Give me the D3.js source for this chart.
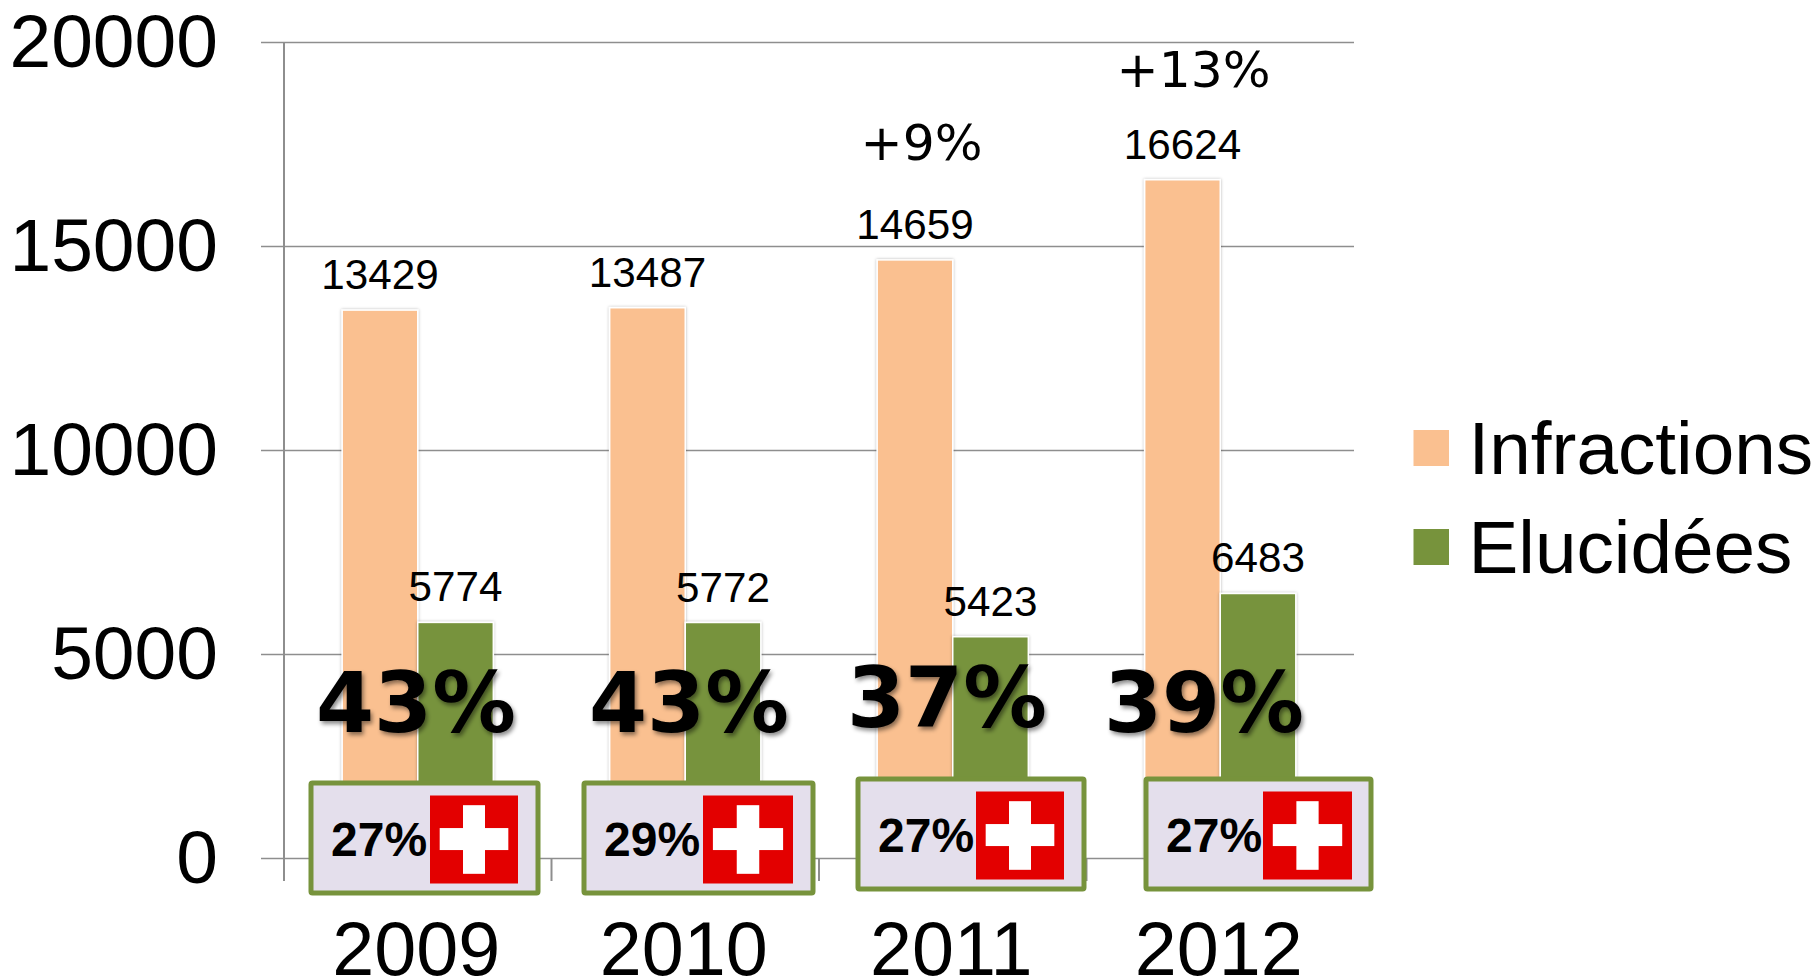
<!DOCTYPE html>
<html>
<head>
<meta charset="utf-8">
<script src="https://d3js.org/d3.v7.min.js"></script>
<style>
  html, body { margin: 0; background: #fff; overflow: hidden; }
  text { font-family: "Liberation Sans", Arial, sans-serif; fill: #000; }
</style>
</head>
<body>
<svg width="1816" height="978"></svg>
<script>
const years = ['2009', '2010', '2011', '2012'];
const infractions = [13429, 13487, 14659, 16624];
const elucidees = [5774, 5772, 5423, 6483];
const seriesNames = ['Infractions', 'Elucidées'];
const seriesColors = ['#FAC090', '#77933C'];
const yTicks = [0, 5000, 10000, 15000, 20000];
const rates = ['43%', '43%', '37%', '39%'];
const swissRates = ['27%', '29%', '27%', '27%'];
const growth = ['', '', '+9%', '+13%'];

const svg = d3.select('svg');

const x = d3.scaleBand().domain(years).range([284, 1354]);
const y = d3.scaleLinear().domain([0, 20000]).range([858, 42]);
const xSeries = d3.scaleBand().domain(seriesNames)
    .range([0, x.bandwidth()])
    .paddingInner(0)
    .paddingOuter(0.77);

const gridColor = '#8e8e8e';

// soft shadows
const defs = svg.append('defs');
defs.append('filter').attr('id', 'textShadow')
    .attr('x', '-10%').attr('y', '-10%').attr('width', '125%').attr('height', '125%')
    .append('feDropShadow')
        .attr('dx', 2).attr('dy', 3).attr('stdDeviation', 2)
        .attr('flood-color', '#000').attr('flood-opacity', 0.45);
defs.append('filter').attr('id', 'barShadow')
    .attr('x', '-10%').attr('y', '-5%').attr('width', '120%').attr('height', '110%')
    .append('feDropShadow')
        .attr('dx', 0).attr('dy', 0).attr('stdDeviation', 1.5)
        .attr('flood-color', '#000').attr('flood-opacity', 0.3);

// y axis + gridlines
const yAxisG = svg.append('g')
    .attr('transform', 'translate(284,0)')
    .call(d3.axisLeft(y).tickValues(yTicks).tickFormat(d3.format('d')).tickSize(23).tickPadding(44));
yAxisG.select('.domain').remove();
yAxisG.selectAll('.tick line').attr('stroke', gridColor).attr('stroke-width', 1.5);
yAxisG.selectAll('.tick').append('line')
    .attr('x1', 0).attr('x2', 1070)
    .attr('stroke', gridColor).attr('stroke-width', 1.5);
yAxisG.selectAll('.tick text')
    .attr('font-size', 75)
    .attr('font-family', '"Liberation Sans"')
    .attr('x', -66)
    .attr('dy', '0.33em');

// vertical axis line and the category ticks
svg.append('line')
    .attr('x1', 284).attr('x2', 284)
    .attr('y1', y(20000)).attr('y2', 881)
    .attr('stroke', gridColor).attr('stroke-width', 2);
svg.append('g').selectAll('line')
    .data(years)
    .join('line')
        .attr('x1', d => x(d) + x.bandwidth())
        .attr('x2', d => x(d) + x.bandwidth())
        .attr('y1', y(0)).attr('y2', 881)
        .attr('stroke', gridColor).attr('stroke-width', 2);

// year labels
const xAxisG = svg.append('g')
    .attr('transform', `translate(-1.5,${y(0)})`)
    .call(d3.axisBottom(x).tickSize(0).tickPadding(63));
xAxisG.select('.domain').remove();
xAxisG.selectAll('.tick text')
    .attr('font-size', 75.5)
    .attr('font-family', '"Liberation Sans"');

// bars
[infractions, elucidees].forEach((values, s) => {
    const name = seriesNames[s];
    svg.append('g').selectAll('rect')
        .data(values)
        .join('rect')
            .attr('x', (d, i) => x(years[i]) + xSeries(name))
            .attr('y', d => y(d))
            .attr('width', xSeries.bandwidth())
            .attr('height', d => y(0) - y(d))
            .attr('fill', seriesColors[s])
            .attr('stroke', '#fff')
            .attr('stroke-width', 1.5)
            .attr('filter', 'url(#barShadow)');

    svg.append('g').selectAll('text')
        .data(values)
        .join('text')
            .attr('x', (d, i) => x(years[i]) + xSeries(name) + xSeries.bandwidth() / 2)
            .attr('y', d => y(d) - 21)
            .attr('text-anchor', 'middle')
            .attr('font-size', 42.2)
            .text(d => d);
});

// growth notes above the bars
const growthX = [0, 0, 921.5, 1193.5];
const growthY = [0, 0, 160, 87];
svg.append('g').selectAll('text')
    .data(growth)
    .join('text')
        .attr('x', (d, i) => growthX[i])
        .attr('y', (d, i) => growthY[i])
        .attr('text-anchor', 'middle')
        .style('font-family', '"DejaVu Sans"')
        .attr('font-size', 50.3)
        .text(d => d);

// big percentages
const rateX = [316, 589, 847, 1104];
const rateY = [732, 732, 727, 732];
svg.append('g').selectAll('text')
    .data(rates)
    .join('text')
        .attr('x', (d, i) => rateX[i])
        .attr('y', (d, i) => rateY[i])
        .style('font-family', '"DejaVu Sans"')
        .attr('font-weight', 'bold')
        .attr('font-size', 83.5)
        .attr('filter', 'url(#textShadow)')
        .text(d => d);

// swiss comparison boxes
const boxX = [311, 584, 858, 1146];
const boxW = [227, 229, 226, 225];
const boxY = [783, 783, 779, 779];
const boxH = 110;
const flagX = [430, 703, 976, 1263];
const flagW = [88, 90, 88, 89];
const flagH = 88;

const boxes = svg.append('g').selectAll('g')
    .data(swissRates)
    .join('g');

boxes.append('rect')
    .attr('x', (d, i) => boxX[i])
    .attr('y', (d, i) => boxY[i])
    .attr('width', (d, i) => boxW[i])
    .attr('height', boxH)
    .attr('rx', 1.5)
    .attr('fill', '#E4DFEC')
    .attr('stroke', '#77933C')
    .attr('stroke-width', 5);

boxes.append('rect')
    .attr('x', (d, i) => flagX[i])
    .attr('y', (d, i) => boxY[i] + 12.5)
    .attr('width', (d, i) => flagW[i])
    .attr('height', flagH)
    .attr('fill', '#E30000');

// white cross, one bar each way
boxes.append('rect')
    .attr('x', (d, i) => flagX[i] + flagW[i] * 0.11)
    .attr('y', (d, i) => boxY[i] + 12.5 + flagH * 0.37)
    .attr('width', (d, i) => flagW[i] * 0.78)
    .attr('height', flagH * 0.25)
    .attr('fill', '#fff');
boxes.append('rect')
    .attr('x', (d, i) => flagX[i] + flagW[i] * 0.375)
    .attr('y', (d, i) => boxY[i] + 12.5 + flagH * 0.11)
    .attr('width', (d, i) => flagW[i] * 0.25)
    .attr('height', flagH * 0.78)
    .attr('fill', '#fff');

boxes.append('text')
    .attr('x', (d, i) => boxX[i] + 20)
    .attr('y', (d, i) => boxY[i] + 73)
    .attr('font-weight', 'bold')
    .attr('font-size', 48)
    .text(d => d);

// legend
const legendY = [430, 529];
const legend = svg.append('g').selectAll('g')
    .data(seriesNames)
    .join('g');
legend.append('rect')
    .attr('x', 1413.5)
    .attr('y', (d, i) => legendY[i])
    .attr('width', 35.5)
    .attr('height', 36)
    .attr('fill', (d, i) => seriesColors[i]);
legend.append('text')
    .attr('x', 1468.5)
    .attr('y', (d, i) => legendY[i] + 44)
    .attr('font-size', 74.7)
    .text(d => d);
</script>
</body>
</html>
